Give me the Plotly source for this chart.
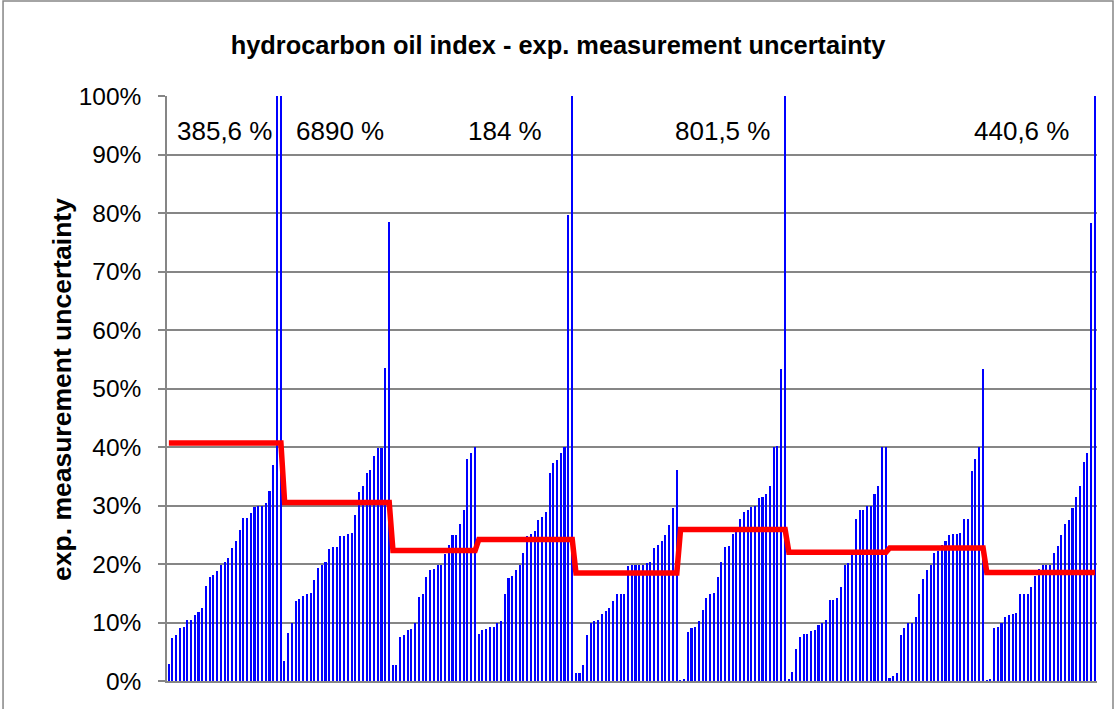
import plotly.graph_objects as go

# ---- data (values in %) ----
g1 = [2.9, 7.35, 7.8, 9.06, 9.17, 10.4, 10.5, 11.3, 11.85, 12.5, 16.2, 17.8, 18.1, 18.75, 19.9, 20.3,
      21.1, 22.7, 24.0, 25.8, 27.8, 27.9, 28.8, 29.7, 29.9, 30.0, 30.5, 32.5, 36.9, 385.6, 6890]
g2 = [3.5, 8.2, 10.0, 13.7, 14.1, 14.5, 14.9, 15.1, 17.2, 19.4, 19.9, 20.3, 22.5, 22.9, 22.9, 24.8,
      24.8, 25.2, 25.3, 28.4, 32.3, 33.3, 35.6, 36.0, 38.4, 39.9, 39.9, 53.5, 78.5]
g3 = [2.8, 2.8, 7.5, 7.9, 8.8, 8.9, 10.0, 14.3, 14.9, 17.7, 19.0, 19.1, 19.9, 19.9, 21.7, 23.2,
      24.9, 24.9, 26.9, 29.2, 37.9, 38.9, 40.0]
g4 = [8.0, 8.7, 8.9, 9.2, 9.3, 9.9, 10.3, 14.8, 17.6, 18.0, 18.9, 19.9, 21.9, 24.8, 25.1, 25.6,
      27.5, 28.0, 28.9, 35.6, 37.2, 37.8, 38.9, 40.0, 79.6, 184]
g5 = [1.4, 1.4, 2.8, 7.9, 9.9, 10.2, 10.5, 11.5, 11.9, 12.5, 13.7, 14.9, 14.9, 14.9, 19.7, 19.9,
      19.9, 19.9, 19.9, 20.2, 20.4, 22.7, 23.2, 23.9, 24.9, 26.7, 29.6, 36.0]
g6 = [0.1, 0.2, 8.3, 9.1, 9.2, 10.3, 12.2, 14.2, 14.9, 15.0, 17.7, 20.4, 22.9, 23.0, 25.1, 25.5,
      27.7, 28.9, 29.3, 29.8, 30.0, 31.2, 31.5, 31.9, 33.3, 40.0, 40.1, 53.3, 801.5]
g7 = [0.3, 1.5, 5.4, 7.5, 8.1, 8.1, 8.6, 8.8, 9.6, 9.9, 10.4, 13.9, 13.9, 14.2, 16.1, 19.9,
      20.2, 21.5, 27.7, 29.2, 29.2, 29.9, 30.0, 32.0, 33.4, 40.0, 40.0]
g8 = [0.5, 0.9, 1.3, 7.9, 9.1, 10.0, 10.0, 10.9, 14.9, 17.4, 18.9, 19.9, 21.8, 22.2, 23.2, 23.9,
      24.9, 25.2, 25.2, 25.3, 27.7, 27.7, 35.9, 37.9, 40.0, 53.3]
g9 = [0.1, 0.3, 9.1, 9.2, 9.9, 11.0, 11.2, 11.5, 11.7, 14.8, 14.9, 14.9, 16.1, 17.9, 19.1, 19.9,
      19.9, 19.9, 21.8, 23.0, 25.0, 26.9, 27.5, 29.6, 31.5, 33.3, 37.5, 38.9, 78.3, 440.6]
groups = [g1, g2, g3, g4, g5, g6, g7, g8, g9]
group_level = [40.7, 30.5, 22.3, 24.2, 18.45, 25.9, 22.0, 22.75, 18.55]

out_labels = ["385,6 %", "6890 %", "184 %", "801,5 %", "440,6 %"]
label_x = [15.0, 45.8, 90.0, 148.3, 228.4]
label_y = [94.0, 94.0, 94.0, 94.0, 94.0]

y_ticks = [0, 10, 20, 30, 40, 50, 60, 70, 80, 90, 100]
y_ticktext = [f"{v}%" for v in y_ticks]

# ---- build series ----
values = []
level = []
for g, lv in zip(groups, group_level):
    values.extend(g)
    level.extend([lv] * len(g))
idx = list(range(len(values)))

fig = go.Figure()
fig.add_trace(go.Bar(x=idx, y=values, width=0.42,
                     marker=dict(color="#0000FF", line=dict(width=0)),
                     showlegend=False, hoverinfo="y"))
fig.add_trace(go.Scatter(x=idx, y=level, mode="lines",
                         line=dict(color="#FF0000", width=5.5),
                         showlegend=False, hoverinfo="y"))

font_main = "Liberation Sans, Arial, sans-serif"

for t, xv, yv in zip(out_labels, label_x, label_y):
    fig.add_annotation(x=xv, y=yv, xref="x", yref="y", text=t, showarrow=False,
                       font=dict(family=font_main, size=26, color="black"),
                       xanchor="center", yanchor="middle")

fig.add_annotation(x=-0.113, y=0.499, xref="paper", yref="paper",
                   text="<b>exp. measurement uncertainty</b>", textangle=-90,
                   showarrow=False, font=dict(family=font_main, size=26.5, color="black"),
                   xanchor="center", yanchor="middle")

fig.add_shape(type="rect", xref="paper", yref="paper", x0=-0.1763, x1=1.0172, y0=-0.06, y1=1.1624,
              line=dict(color="#868686", width=1.5), fillcolor="rgba(0,0,0,0)", layer="below")

fig.update_layout(
    width=1116, height=709,
    margin=dict(l=167, r=19, t=96, b=28),
    paper_bgcolor="white", plot_bgcolor="white",
    bargap=0,
    title=dict(text="<b>hydrocarbon oil index - exp. measurement uncertainty</b>",
               x=0.5, xref="container", y=1 - 45 / 709, yanchor="middle",
               font=dict(family=font_main, size=25.4, color="black")),
    xaxis=dict(range=[-0.5, len(values) - 0.5], showticklabels=False, showgrid=False,
               zeroline=False, showline=True, linecolor="#868686", linewidth=1.5, ticks=""),
    yaxis=dict(range=[0, 100], tickvals=y_ticks, ticktext=y_ticktext, showgrid=True,
               gridcolor="#868686", gridwidth=1.5, zeroline=False, showline=True,
               linecolor="#868686", linewidth=1.5, ticks="outside", ticklen=7,
               tickcolor="#868686", tickwidth=1.5, ticklabelstandoff=12,
               tickfont=dict(family=font_main, size=24.5, color="black")),
)

fig.write_html("out.html", config={"displayModeBar": False},
               post_script="document.body.style.margin='0';document.body.style.overflow='hidden';")
